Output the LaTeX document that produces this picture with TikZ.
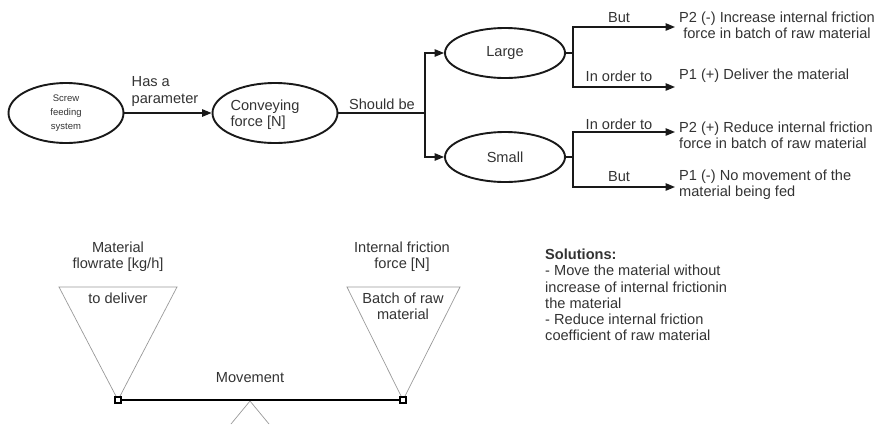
\documentclass[tikz,border=0pt]{standalone}
\usepackage{fontspec}
\setmainfont{Liberation Sans}
\usetikzlibrary{shapes.geometric,arrows.meta}
\begin{document}
\begin{tikzpicture}[x=1pt,y=-1pt,
  txt/.style={font=\fontsize{14.6}{16.3}\selectfont, text=black!80, inner sep=0pt},
  tinytxt/.style={font=\fontsize{9.5}{13.8}\selectfont, text=black!80, inner sep=0pt},
  oval/.style={ellipse, draw=black!90, line width=1.9pt, inner sep=0pt},
  conn/.style={draw=black!90, line width=1.3pt},
  arr/.style={conn, -{Triangle[length=9.5pt,width=7.5pt]}},
  tri/.style={draw=black!40, line width=0.7pt},
  pin/.style={rectangle, draw=black, line width=1.1pt, fill=white, minimum size=6pt, inner sep=0pt},
]
\useasboundingbox (0,0) rectangle (885,424);

% --- concept chain ---
\node[oval, tinytxt, align=center, minimum width=115pt, minimum height=60pt] (sfs) at (66,113) {Screw\\feeding\\system};
\node[oval, minimum width=125pt, minimum height=60pt] (cf) at (275,113) {};
\node[txt, align=left] (cfT) at (265,114.5) {Conveying\\force [N]};
\draw[arr] (sfs) -- (cf);
\node[txt, align=left] (hasT) at (165,91.5) {Has a\\parameter};

\node[oval, txt, minimum width=120pt, minimum height=50pt] (large) at (505,53) {Large};
\node[oval, txt, minimum width=120pt, minimum height=50pt] (small) at (505,157) {Small};

\coordinate (split) at (425,113);
\draw[conn] (cf.east) -- (split);
\draw[arr] (split) |- (large.west);
\draw[arr] (split) |- (small.west);
\node[txt] (shouldT) at (382,104) {Should be};

% --- branches of "Large" ---
\coordinate (lMid) at (573,53);
\coordinate (tA) at (675,27);
\coordinate (tB) at (675,87);
\draw[conn] (large.east) -- (lMid);
\draw[arr] (lMid) |- (tA);
\draw[arr] (lMid) |- (tB);
\node[txt] (butA) at (619,18) {But};
\node[txt] (orderA) at (619,76) {In order to};
\node[txt, align=center, anchor=west] (p2m) at (679,25) {P2 (-) Increase internal friction\\force in batch of raw material};
\node[txt, anchor=west] (p1p) at (679,76) {P1 (+) Deliver the material};

% --- branches of "Small" ---
\coordinate (sMid) at (573,157);
\coordinate (tC) at (675,132);
\coordinate (tD) at (675,187);
\draw[conn] (small.east) -- (sMid);
\draw[arr] (sMid) |- (tC);
\draw[arr] (sMid) |- (tD);
\node[txt] (orderB) at (619,124.5) {In order to};
\node[txt] (butB) at (619,177) {But};
\node[txt, align=left, anchor=west] (p2p) at (679,135.5) {P2 (+) Reduce internal friction\\force in batch of raw material};
\node[txt, align=left, anchor=west] (p1m) at (679,185) {P1 (-) No movement of the\\material being fed};

% --- balance ---
\draw[tri] (59,287) -- (177,287) -- (118,400) -- cycle;
\draw[tri] (347,287) -- (460,287) -- (403,400) -- cycle;
\coordinate (fulc) at (250,401);
\draw[tri] (231,424) -- (fulc) -- (269,424);
\node[pin] (pl) at (118,400) {};
\node[pin] (pr) at (403,400) {};
\draw[black, line width=1.6pt] (pl) -- (pr);

\node[txt, align=center] (matT) at (118,257) {Material\\flowrate [kg/h]};
\node[txt, align=center] (fricT) at (402,257) {Internal friction\\force [N]};
\node[txt] (delT) at (118,298) {to deliver};
\node[txt, align=center] (batchT) at (403,306) {Batch of raw\\material};
\node[txt] (movT) at (250,378) {Movement};

\node[txt, align=left, anchor=west] (sol) at (545,295) {\textbf{Solutions:}\\- Move the material without\\increase of internal frictionin\\the material\\- Reduce internal friction\\coefficient of raw material};
\end{tikzpicture}
\end{document}
